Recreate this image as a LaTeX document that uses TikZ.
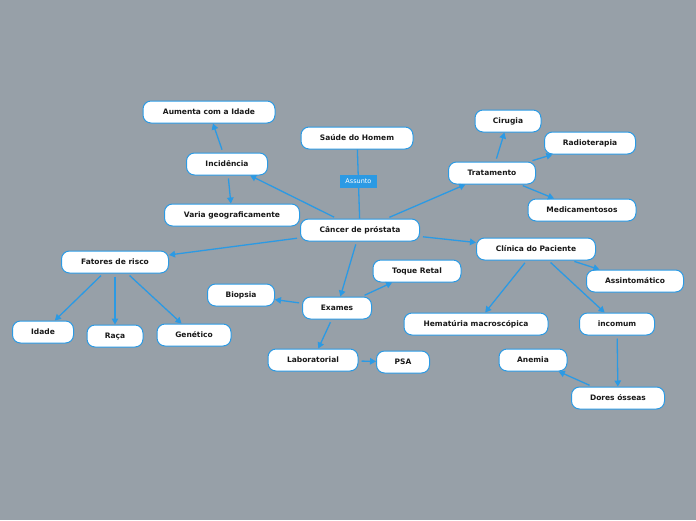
\documentclass[tikz,border=0pt]{standalone}
\usepackage{fontspec}
\setmainfont{DejaVu Sans}
\usetikzlibrary{arrows.meta}
\definecolor{bgc}{RGB}{151,160,168}
\definecolor{bluec}{RGB}{43,154,228}
\tikzset{
  box/.style={draw=bluec, line width=1pt, fill=white, rounded corners=8pt,
    minimum height=22pt, inner sep=0pt, font=\fontsize{7.5}{8}\selectfont\bfseries, text=black!90},
  arr/.style={draw=bluec, line width=1.3pt, shorten <=3pt, -{Triangle[length=6pt,width=6.5pt]}},
  plain/.style={draw=bluec, line width=1.3pt},
  tag/.style={fill=bluec, minimum width=37pt, minimum height=13pt, inner sep=0pt,
    text=white, font=\fontsize{6.5}{7}\selectfont}
}
\begin{document}
\begin{tikzpicture}[x=1pt,y=-1pt]
\fill[bgc] (0,0) rectangle (696,520);
\useasboundingbox (0,0) rectangle (696,520);
% nodes
\node[box, minimum width=132pt] (aum) at (209,112) {Aumenta com a Idade};
\node[box, minimum width=112pt] (saude) at (357,138) {Saúde do Homem};
\node[box, minimum width=66pt] (cir) at (508,121) {Cirugia};
\node[box, minimum width=91pt] (rad) at (590,143) {Radioterapia};
\node[box, minimum width=81pt] (inc) at (227,164) {Incidência};
\node[box, minimum width=87pt] (trat) at (492,173) {Tratamento};
\node[box, minimum width=135pt] (varia) at (232,215) {Varia geograficamente};
\node[box, minimum width=108pt] (med) at (582,210) {Medicamentosos};
\node[box, minimum width=119pt] (cancer) at (360,230) {Câncer de próstata};
\node[box, minimum width=119pt] (clin) at (536,249) {Clínica do Paciente};
\node[box, minimum width=107pt] (fat) at (115,262) {Fatores de risco};
\node[box, minimum width=88pt] (toque) at (417,271) {Toque Retal};
\node[box, minimum width=97pt] (ass) at (635,281) {Assintomático};
\node[box, minimum width=67pt] (bio) at (241,295) {Biopsia};
\node[box, minimum width=69pt] (exa) at (337,308) {Exames};
\node[box, minimum width=144pt] (hem) at (476,324) {Hematúria macroscópica};
\node[box, minimum width=75pt] (incom) at (617,324) {incomum};
\node[box, minimum width=61pt] (idade) at (43,332) {Idade};
\node[box, minimum width=56pt] (raca) at (115,336) {Raça};
\node[box, minimum width=74pt] (gen) at (194,335) {Genético};
\node[box, minimum width=90pt] (lab) at (313,360) {Laboratorial};
\node[box, minimum width=53pt] (psa) at (403,362) {PSA};
\node[box, minimum width=68pt] (anem) at (533,360) {Anemia};
\node[box, minimum width=93pt] (dores) at (618,398) {Dores ósseas};
% connectors
\draw[plain] (saude) -- node[tag, pos=0.46] (assunto) {Assunto} (cancer);
\draw[arr] (cancer) -- (trat);
\draw[arr] (cancer) -- (clin);
\draw[arr] (cancer) -- (fat);
\draw[arr] (cancer) -- (inc);
\draw[arr] (cancer) -- (exa);
\draw[arr] (inc) -- (aum);
\draw[arr] (inc) -- (varia);
\draw[arr] (trat) -- (cir);
\draw[arr] (trat) -- (rad);
\draw[arr] (trat) -- (med);
\draw[arr] (clin) -- (ass);
\draw[arr] (clin) -- (hem);
\draw[arr] (clin) -- (incom);
\draw[arr] (incom) -- (dores);
\draw[arr] (dores) -- (anem);
\draw[arr] (fat) -- (idade);
\draw[arr] (fat) -- (raca);
\draw[arr] (fat) -- (gen);
\draw[arr] (exa) -- (toque);
\draw[arr] (exa) -- (bio);
\draw[arr] (exa) -- (lab);
\draw[arr] (lab) -- (psa);
\end{tikzpicture}
\end{document}
